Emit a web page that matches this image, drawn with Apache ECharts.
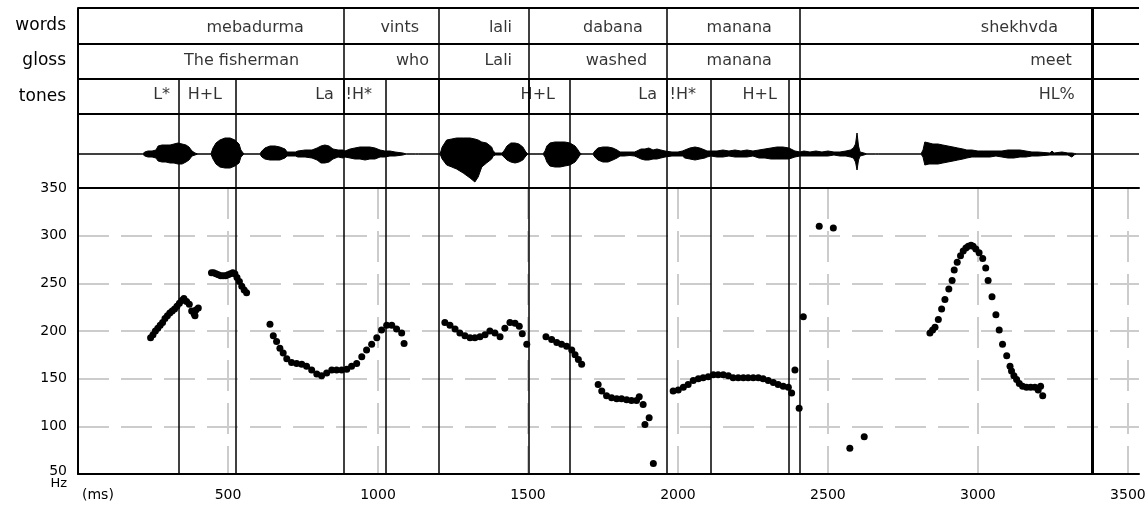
<!DOCTYPE html>
<html>
<head>
<meta charset="utf-8">
<script src="https://cdn.jsdelivr.net/npm/echarts@6/dist/echarts.min.js"></script>
<style>
html, body { margin: 0; padding: 0; background: #fff; }
#chart { width: 1145px; height: 507px; }
</style>
</head>
<body>
<div id="chart"></div>
<script>
// tiers
const tierRows = ['words', 'gloss', 'tones']
const wordLabels = ['mebadurma', 'vints', 'lali', 'dabana', 'manana', 'shekhvda']
const wordLabelMs = [753, 1137, 1447, 1883, 2313, 3267]
const glossLabels = ['The fisherman', 'who', 'Lali', 'washed', 'manana', 'meet']
const glossLabelMs = [737, 1170, 1447, 1897, 2313, 3313]
const toneLabels = ['L*', 'H+L', 'La', '!H*', 'H+L', 'La', '!H*', 'H+L', 'HL%']
const toneLabelMs = [307, 480, 853, 980, 1590, 1930, 2060, 2330, 3323]
const wordBounds = [887, 1202, 1503, 1963, 2407, 3380]
const toneBounds = [337, 527, 887, 1027, 1202, 1503, 1640, 1963, 2110, 2370, 2407, 3380]
const endBound = 3380

// axes
const timeMax = 3537
const timeStep = 500
const hzMin = 50
const hzMax = 350
const hzStep = 50

// pitch track (ms, Hz)
const pitchMs = [
    242, 250, 258, 266, 274, 282, 290, 298, 306, 314, 322, 330, 338, 346, 353, 362, 371, 379, 387, 390, 393, 401,
    445, 452, 460, 468, 476, 484, 492, 500, 508, 516, 523, 530, 538, 546, 554, 562,
    640, 651, 662, 673, 684, 696, 712, 729, 746, 762, 779, 796, 812, 829, 846, 862, 879, 896, 912, 929, 946, 962, 979, 996, 1012, 1029, 1046, 1062, 1079, 1087,
    1223, 1240, 1257, 1273, 1290, 1307, 1323, 1340, 1357, 1373, 1390, 1407, 1423, 1440, 1457, 1471, 1481, 1496,
    1560, 1579, 1596, 1612, 1629, 1646, 1657, 1668, 1679,
    1734, 1746, 1762, 1779, 1796, 1812, 1829, 1845, 1862, 1871, 1884, 1890, 1904, 1918,
    1984, 2001, 2018, 2034, 2051, 2068, 2084, 2101, 2118, 2134, 2151, 2168, 2184, 2201, 2218, 2234, 2251, 2268, 2284, 2301, 2318, 2334, 2351, 2368, 2379,
    2390, 2404, 2418, 2471, 2518, 2573, 2621,
    2840, 2849, 2857, 2868, 2879, 2890, 2903, 2914, 2921, 2931, 2942, 2951, 2960, 2968, 2977, 2984, 2993, 3004, 3016, 3026, 3034, 3047, 3060, 3071, 3082, 3096, 3107, 3112, 3120, 3129, 3138, 3149, 3162, 3176, 3190, 3201, 3209, 3216
]
const pitchHz = [
    193, 196, 200, 203, 206, 209, 213, 216, 219, 221, 223, 226, 229, 232, 234, 231, 228, 221, 218, 216, 222, 224,
    261, 261, 260, 259, 258, 258, 258, 259, 260, 261, 260, 256, 252, 247, 243, 240,
    207, 195, 189, 182, 177, 171, 167, 166, 165, 163, 159, 155, 153, 156, 159, 159, 159, 160, 163, 166, 173, 180, 186, 193, 201, 206, 206, 202, 198, 187,
    209, 206, 202, 198, 195, 193, 193, 194, 196, 200, 198, 194, 203, 209, 208, 205, 197, 186,
    194, 191, 188, 186, 184, 180, 175, 170, 165,
    144, 137, 132, 130, 129, 129, 128, 127, 127, 131, 123, 102, 109, 61,
    137, 138, 141, 144, 148, 150, 151, 152, 154, 154, 154, 153, 151, 151, 151, 151, 151, 151, 150, 148, 146, 144, 142, 141, 135,
    159, 119, 215, 310, 308, 77, 89,
    198, 201, 204, 212, 223, 233, 244, 253, 264, 272, 279, 284, 287, 289, 290, 289, 286, 282, 276, 266, 253, 236, 217, 201, 186, 174, 163, 158, 153, 149, 145, 142, 141, 141, 141, 138, 142, 132
]

// waveform envelope (ms, upper, lower)
const waveMs = [
    0, 215, 223, 233, 247, 260, 267, 280, 293, 307, 320, 333, 347, 360, 370, 380, 390, 400,
    443, 450, 460, 473, 490, 507, 523, 537, 543, 553,
    606, 613, 623, 640, 657, 673, 690, 697, 710, 725,
    733, 757, 780, 797, 810, 823, 837, 850, 867, 883,
    890, 907, 923, 940, 957, 973, 990, 1007, 1023, 1040, 1057, 1083, 1095,
    1125, 1130, 1135, 1160, 1165, 1170,
    1207, 1214, 1229, 1246, 1262, 1284, 1307, 1323, 1334, 1346, 1362, 1379, 1384, 1392,
    1413, 1420, 1430, 1443, 1457, 1470, 1483, 1493, 1500,
    1550, 1557, 1563, 1573, 1590, 1607, 1623, 1640, 1657, 1667, 1673, 1680,
    1716, 1723, 1733, 1750, 1767, 1783, 1797, 1807, 1820, 1840, 1855,
    1863, 1877, 1890, 1903, 1917, 1930, 1943, 1957, 1963, 1980, 2000, 2015,
    2023, 2040, 2057, 2073, 2090, 2097, 2110, 2130, 2150, 2170, 2190, 2210, 2230, 2250, 2270, 2290, 2310, 2330, 2350, 2370, 2390, 2407,
    2420, 2440, 2460, 2480, 2500, 2520, 2540, 2560, 2575, 2585, 2592, 2597, 2602, 2607, 2620, 2630,
    2658, 2663, 2668,
    2810, 2817, 2823, 2837, 2850, 2867, 2883, 2900, 2917, 2933, 2950, 2963,
    2980, 3000, 3020, 3040, 3060, 3080, 3100, 3120, 3140, 3160, 3180, 3200,
    3220, 3240, 3247, 3254, 3280, 3300, 3313, 3323, 3330, 3537
]
const waveTop = [
    0, 0, 2, 3, 3, 4, 8, 9, 9, 9, 10, 11, 10, 9, 7, 3, 1, 0,
    0, 6, 11, 14, 16, 16, 14, 10, 4, 0,
    0, 3, 6, 8, 8, 7, 5, 2, 2, 2,
    3, 4, 4, 6, 8, 9, 8, 5, 4, 4,
    3, 5, 6, 7, 7, 7, 6, 4, 3, 3, 2, 1, 0,
    0, 2, 0, 0, 1.5, 0,
    0, 7, 14, 15, 16, 16, 16, 15, 14, 12, 11, 7, 3, 1,
    1, 3, 8, 11, 11, 10, 7, 2, 0,
    0, 3, 8, 11, 12, 12, 12, 11, 8, 4, 1, 0,
    0, 3, 6, 7, 7, 6, 4, 2, 2, 2, 2,
    3, 5, 5, 6, 4, 5, 4, 3, 2, 2, 2, 3,
    4, 6, 7, 6, 4, 3, 3, 3, 4, 3, 4, 3, 4, 3, 4, 5, 6, 7, 7, 6, 3, 2,
    3, 2, 3, 2, 3, 2, 2, 3, 4, 6, 10, 21, 8, 2, 1, 0,
    0, 2, 0,
    0, 4, 12, 11, 10, 10, 9, 8, 7, 6, 5, 4,
    4, 3, 3, 3, 3, 3, 4, 4, 4, 3, 2, 2,
    1.5, 1, 3, 1, 2, 1, 1, 0.5, 0, 0
]
const waveBottom = [
    0, 0, 2, 3, 3, 4, 7, 8, 8, 9, 9, 10, 10, 8, 6, 2, 1, 0,
    0, 5, 10, 13, 14, 14, 12, 9, 3, 0,
    0, 3, 5, 6, 6, 6, 4, 2, 2, 2,
    3, 3, 4, 6, 9, 9, 8, 5, 3, 4,
    3, 4, 5, 5, 6, 5, 5, 3, 3, 2, 2, 1, 0,
    0, 1, 0, 0, 1, 0,
    0, 5, 11, 13, 15, 19, 24, 28, 23, 13, 9, 5, 2, 1,
    1, 3, 6, 8, 9, 8, 6, 2, 0,
    0, 3, 8, 12, 13, 13, 12, 11, 8, 4, 1, 0,
    0, 3, 6, 8, 8, 6, 4, 2, 2, 1.5, 2,
    3, 5, 6, 6, 5, 5, 4, 3, 2, 2, 2, 2,
    4, 5, 6, 5, 4, 3, 2, 3, 3, 2, 3, 3, 3, 2, 4, 4, 5, 5, 5, 5, 3, 2,
    2, 2, 2, 2, 2, 1, 2, 2, 3, 4, 8, 16, 6, 2, 1, 0,
    0, 2, 0,
    0, 3, 11, 10, 10, 10, 9, 8, 7, 6, 5, 4,
    3, 3, 3, 3, 2, 3, 4, 4, 3, 3, 2, 2,
    1.5, 1, 1, 1, 1, 1, 3, 0.5, 0, 0
]

const font = 'DejaVu Sans'
const gridLine = { color: '#cccccc', width: 2, type: [31, 12] }

function boundLine(b) {
    return { color: '#000', width: b === endBound ? 3 : 1.5, type: 'solid' }
}

const tierTexts = []
wordLabels.forEach((t, i) => tierTexts.push({ name: t, value: [wordLabelMs[i], 0.55] }))
glossLabels.forEach((t, i) => tierTexts.push({ name: t, value: [glossLabelMs[i], 1.5] }))
toneLabels.forEach((t, i) => tierTexts.push({ name: t, value: [toneLabelMs[i], 2.47] }))

const tierLines = [0, 1, 2, 3].map(y => ({ yAxis: y, lineStyle: { color: '#000', width: 2, type: 'solid' } }))
toneBounds.forEach(b => {
    tierLines.push([{ coord: [b, 2], lineStyle: boundLine(b) }, { coord: [b, 3] }])
})
wordBounds.forEach(b => {
    tierLines.push([{ coord: [b, 0], lineStyle: boundLine(b) }, { coord: [b, 3] }])
})
const fullLines = toneBounds.map(b => ({ xAxis: b, lineStyle: boundLine(b) }))

const chart = echarts.init(document.getElementById('chart'))

const option = {
    animation: false,
    backgroundColor: '#fff',
    textStyle: { fontFamily: font, color: '#000' },
    grid: [
        { left: 78, top: 8, width: 1061, height: 106, outerBoundsMode: 'none' },
        { left: 78, top: 114, width: 1061, height: 74, outerBoundsMode: 'none' },
        { left: 78, top: 188, width: 1061, height: 286, outerBoundsMode: 'none' }
    ],
    xAxis: [
        {
            type: 'value', gridIndex: 0, min: 0, max: timeMax,
            axisLine: { show: false }, axisTick: { show: false },
            axisLabel: { show: false }, splitLine: { show: false }
        },
        {
            type: 'value', gridIndex: 1, min: 0, max: timeMax, position: 'bottom',
            axisLine: { show: true, onZero: false, lineStyle: { color: '#000', width: 2 } },
            axisTick: { show: false }, axisLabel: { show: false }, splitLine: { show: false }
        },
        {
            type: 'value', gridIndex: 2, min: 0, max: timeMax,
            minInterval: timeStep, maxInterval: timeStep,
            axisLine: { show: true, onZero: false, lineStyle: { color: '#000', width: 2 } },
            axisTick: { show: false },
            axisLabel: {
                margin: 14, fontSize: 14, fontFamily: font, color: '#000',
                formatter: v => (v > 0 && v % timeStep === 0) ? String(v) : ''
            },
            splitLine: { show: true, showMinLine: false, showMaxLine: false, lineStyle: gridLine }
        }
    ],
    yAxis: [
        {
            type: 'value', gridIndex: 0, min: 0, max: 3, inverse: true, position: 'left',
            axisLine: { show: true, lineStyle: { color: '#000', width: 2 } },
            axisTick: { show: false }, axisLabel: { show: false }, splitLine: { show: false }
        },
        {
            type: 'category', gridIndex: 0, data: tierRows, inverse: true, position: 'left', offset: 0,
            axisLine: { show: false }, axisTick: { show: false }, splitLine: { show: false },
            axisLabel: { margin: 12, fontSize: 17, fontFamily: font, color: '#000', padding: [0, 0, 7, 0] }
        },
        {
            type: 'value', gridIndex: 1, min: -34, max: 40,
            axisLine: { show: true, onZero: false, lineStyle: { color: '#000', width: 2 } },
            axisTick: { show: false }, axisLabel: { show: false }, splitLine: { show: false }
        },
        {
            type: 'value', gridIndex: 2, min: hzMin, max: hzMax, interval: hzStep,
            axisLine: { show: true, onZero: false, lineStyle: { color: '#000', width: 2 } },
            axisTick: { show: false },
            axisLabel: {
                margin: 11, fontSize: 14, fontFamily: font, color: '#000',
                formatter: v => v === hzMin ? '{lift|' + v + '}' : String(v),
                rich: { lift: { fontSize: 14, fontFamily: font, color: '#000', padding: [0, 0, 6, 0] } }
            },
            splitLine: { show: true, showMinLine: false, showMaxLine: false, lineStyle: gridLine }
        }
    ],
    series: [
        {
            name: 'tiers',
            type: 'scatter',
            xAxisIndex: 0,
            yAxisIndex: 0,
            symbolSize: 0,
            silent: true,
            data: tierTexts,
            label: {
                show: true, position: 'left', distance: 0,
                formatter: p => p.name,
                fontSize: 16, fontFamily: font, color: '#000'
            },
            markLine: {
                silent: true, symbol: ['none', 'none'], label: { show: false },
                data: tierLines
            }
        },
        {
            name: 'wave top',
            type: 'line',
            xAxisIndex: 1,
            yAxisIndex: 2,
            symbol: 'none',
            silent: true,
            data: waveMs.map((t, i) => [t, waveTop[i]]),
            lineStyle: { color: '#000', width: 1 },
            areaStyle: { color: '#000', opacity: 1 },
            markLine: {
                silent: true, symbol: ['none', 'none'], label: { show: false },
                data: fullLines
            }
        },
        {
            name: 'wave bottom',
            type: 'line',
            xAxisIndex: 1,
            yAxisIndex: 2,
            symbol: 'none',
            silent: true,
            data: waveMs.map((t, i) => [t, -waveBottom[i]]),
            lineStyle: { color: '#000', width: 1 },
            areaStyle: { color: '#000', opacity: 1 }
        },
        {
            name: 'pitch',
            type: 'scatter',
            xAxisIndex: 2,
            yAxisIndex: 3,
            symbol: 'circle',
            symbolSize: 7,
            itemStyle: { color: '#000', opacity: 1 },
            data: pitchMs.map((t, i) => [t, pitchHz[i]]),
            markLine: {
                silent: true, symbol: ['none', 'none'], label: { show: false },
                data: fullLines
            }
        }
    ],
    graphic: [
        {
            type: 'text', left: 82, top: 488,
            style: { text: '(ms)', fontSize: 14, fontFamily: font, fill: '#000' }
        },
        {
            type: 'text', right: 1145 - 67, top: 477,
            style: { text: 'Hz', fontSize: 13, fontFamily: font, fill: '#000' }
        }
    ]
}

chart.setOption(option)
</script>
</body>
</html>
